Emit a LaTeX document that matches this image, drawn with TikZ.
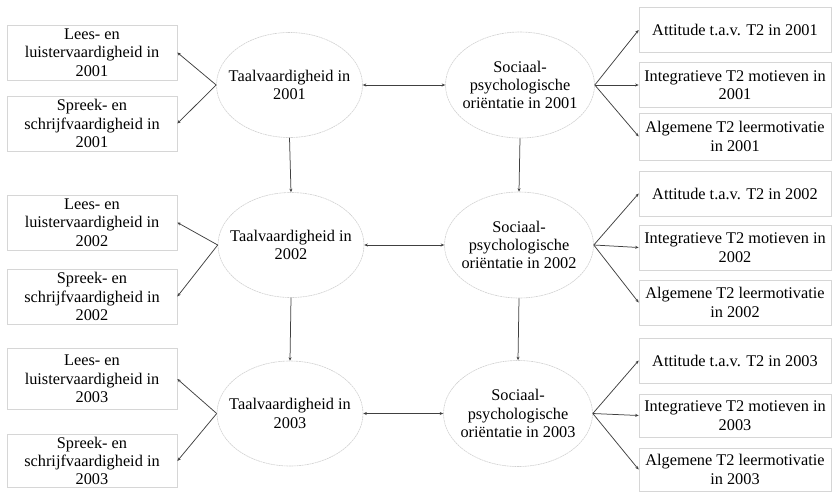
\documentclass[tikz,border=0pt]{standalone}
\usepackage{fontspec}
\setmainfont{Liberation Serif}
\usetikzlibrary{shapes.geometric,arrows.meta}
\tikzset{
  box/.style={draw=black!16, line width=0.7pt, rectangle, inner sep=0pt, align=center,
    font=\fontsize{16.3}{18.4}\selectfont},
  lbox/.style={box, minimum width=170pt, minimum height=55pt},
  rbox/.style={box, minimum width=192pt, minimum height=45pt},
  ell/.style={draw=black!18, line width=0.6pt, dash pattern=on 2pt off 0.6pt, ellipse, inner sep=0pt},
  tell/.style={ell, minimum width=146pt, minimum height=105pt},
  sell/.style={ell, minimum width=149pt, minimum height=106pt},
  lab/.style={align=center, inner sep=0pt, font=\fontsize{16.3}{18.4}\selectfont},
  arr/.style={draw=black!75, line width=0.75pt, -{Stealth[length=3.5pt,width=3pt]}},
  darr/.style={draw=black!75, line width=0.75pt, {Stealth[length=3.5pt,width=3pt]}-{Stealth[length=3.5pt,width=3pt]}},
}
\begin{document}
\begin{tikzpicture}[x=1pt,y=-1pt]
\useasboundingbox (0,0) rectangle (833,491);
% left boxes
\node[lbox] (L1a) at (92,52.5) {Lees- en\\luistervaardigheid in\\2001};
\node[lbox] (L1b) at (92,123.5) {Spreek- en\\schrijfvaardigheid in\\2001};
\node[lbox] (L2a) at (92,222.5) {Lees- en\\luistervaardigheid in\\2002};
\node[lbox] (L2b) at (92,296.5) {Spreek- en\\schrijfvaardigheid in\\2002};
\node[lbox, minimum height=61pt] (L3a) at (92,379) {Lees- en\\luistervaardigheid in\\2003};
\node[lbox, minimum height=53pt] (L3b) at (92,461) {Spreek- en\\schrijfvaardigheid in\\2003};
% Taal ellipses
\node[tell] (T1) at (289.5,85) {};
\node[lab] (T1t) at (T1) {Taalvaardigheid in\\2001};
\node[tell] (T2) at (291,245) {};
\node[lab] (T2t) at (T2) {Taalvaardigheid in\\2002};
\node[tell] (T3) at (290,413.5) {};
\node[lab] (T3t) at (T3) {Taalvaardigheid in\\2003};
% Sociaal ellipses
\node[sell] (S1) at (520,85) {};
\node[lab] (S1t) at (S1) {Sociaal-\\psychologische\\oriëntatie in 2001};
\node[sell] (S2) at (519,245) {};
\node[lab] (S2t) at (S2) {Sociaal-\\psychologische\\oriëntatie in 2002};
\node[sell] (S3) at (518,413.5) {};
\node[lab] (S3t) at (S3) {Sociaal-\\psychologische\\oriëntatie in 2003};
% right boxes
\node[rbox] (R1a) at (735,30) {Attitude t.a.v. T2 in 2001};
\node[rbox] (R1b) at (735,85) {Integratieve T2 motieven in\\2001};
\node[rbox, minimum height=47pt] (R1c) at (735,136.5) {Algemene T2 leermotivatie\\in 2001};
\node[rbox] (R2a) at (735,193.5) {Attitude t.a.v. T2 in 2002};
\node[rbox] (R2b) at (735,247.5) {Integratieve T2 motieven in\\2002};
\node[rbox] (R2c) at (735,302.5) {Algemene T2 leermotivatie\\in 2002};
\node[rbox] (R3a) at (735,360.5) {Attitude t.a.v. T2 in 2003};
\node[rbox, minimum height=43pt] (R3b) at (735,415.5) {Integratieve T2 motieven in\\2003};
\node[rbox, minimum height=43pt] (R3c) at (735,469.5) {Algemene T2 leermotivatie\\in 2003};
% left arrows
\foreach \t/\a/\b in {T1/L1a/L1b, T2/L2a/L2b, T3/L3a/L3b}{
  \draw[arr] (\t.west) -- (\a.east);
  \draw[arr] (\t.west) -- (\b.east);
}
% right arrows
\foreach \s/\a/\b/\c in {S1/R1a/R1b/R1c, S2/R2a/R2b/R2c, S3/R3a/R3b/R3c}{
  \draw[arr] (\s.east) -- (\a.west);
  \draw[arr] (\s.east) -- (\b.west);
  \draw[arr] (\s.east) -- (\c.west);
}
% vertical
\draw[arr] (T1.south) -- (T2.north);
\draw[arr] (T2.south) -- (T3.north);
\draw[arr] (S1.south) -- (S2.north);
\draw[arr] (S2.south) -- (S3.north);
% horizontal
\draw[darr] (T1.east) -- (S1.west);
\draw[darr] (T2.east) -- (S2.west);
\draw[darr] (T3.east) -- (S3.west);
\end{tikzpicture}
\end{document}
